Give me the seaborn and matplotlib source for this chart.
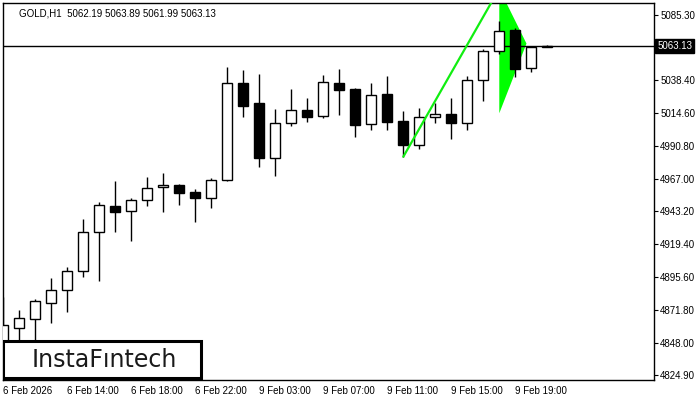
import matplotlib
matplotlib.use("Agg")
import matplotlib.pyplot as plt
import matplotlib.transforms as mtransforms
from matplotlib.patches import Rectangle
import seaborn as sns
import numpy as np

# GOLD H1 candles
opens = [4842.8, 4858.9, 4865.4, 4877.0, 4886.0, 4899.8, 4928.0, 4946.9, 4943.3, 4951.2,
         4960.7, 4962.1, 4957.0, 4952.7, 4965.7, 5036.0, 5021.5, 4981.7, 5007.0, 5016.4,
         5012.1, 5036.0, 5031.9, 5006.3, 5028.3, 5008.7, 4991.1, 5011.4, 5013.8, 5007.0,
         5038.2, 5059.2, 5074.6, 5046.9, 5062.19]
highs = [4881.2, 4871.7, 4879.5, 4894.9, 4902.9, 4937.7, 4950.0, 4965.2, 4952.9, 4968.1,
         4970.8, 4963.0, 4959.4, 4967.4, 5047.8, 5045.6, 5042.7, 5017.2, 5031.9, 5025.4,
         5042.0, 5046.4, 5032.6, 5036.0, 5041.3, 5015.9, 5017.9, 5022.0, 5025.4, 5041.3,
         5060.9, 5081.2, 5076.1, 5063.0, 5063.89]
lows = [4831.9, 4846.4, 4845.0, 4862.5, 4870.5, 4895.9, 4893.0, 4928.0, 4921.7, 4947.3,
        4943.0, 4948.0, 4935.7, 4945.9, 4965.0, 5011.8, 4975.6, 4969.1, 5005.3, 5007.7,
        5011.1, 5013.3, 4997.3, 5002.4, 5002.4, 4982.8, 4988.6, 5007.0, 4995.4, 5002.5,
        5023.4, 5057.0, 5040.8, 5044.4, 5061.99]
closes = [4860.9, 4865.7, 4878.0, 4886.0, 4899.8, 4928.3, 4947.6, 4943.0, 4951.2, 4959.9,
          4962.3, 4956.7, 4953.1, 4965.7, 5036.0, 5019.8, 4982.1, 5007.0, 5016.4, 5011.8,
          5036.7, 5031.4, 5006.0, 5027.3, 5007.7, 4991.1, 5011.4, 5013.5, 5007.0, 5038.2,
          5059.2, 5073.7, 5046.6, 5062.2, 5063.13]

time_labels = ["6 Feb 2026", "6 Feb 14:00", "6 Feb 18:00", "6 Feb 22:00", "9 Feb 03:00",
               "9 Feb 07:00", "9 Feb 11:00", "9 Feb 15:00", "9 Feb 19:00"]
price_ticks = [5085.30, 5038.40, 5014.60, 4990.80, 4967.00, 4943.20, 4919.40,
               4895.60, 4871.80, 4848.00, 4824.90]
last_price = 5063.13

# bullish pennant: pole and flag
pole_x = [25, 31]
pole_y = [4982.8, 5104.6]
flag_x = [31, 31, 32.7]
flag_y = [5104.6, 5014.3, 5064.8]

sns.set_theme(style="white")
plt.rcParams['font.family'] = ['Liberation Sans', 'DejaVu Sans']

fig = plt.figure(figsize=(7, 4), dpi=100)
ax = fig.add_axes([3 / 700, 20 / 400, 651 / 700, 377 / 400])

x = np.arange(len(opens))
o = np.array(opens)
c = np.array(closes)
bull = c >= o

ax.vlines(x, lows, highs, color="black", linewidth=1.0, zorder=2)
ax.bar(x, np.abs(c - o), bottom=np.minimum(o, c), width=0.64,
       color=np.where(bull, "white", "black"), edgecolor="black", linewidth=1.0, zorder=3)

ax.fill(flag_x, flag_y, color="#00ff00", zorder=1.5, linewidth=0)
sns.lineplot(x=pole_x, y=pole_y, color="#11ee11", linewidth=1.6, ax=ax, zorder=4)

ax.axhline(last_price, color="black", linewidth=1.0, zorder=2.5)

ax.set_xlim(-0.02, 40.67)
ax.set_ylim(4821.0, 5094.2)

ax.yaxis.tick_right()
ax.set_yticks(price_ticks)
ax.set_yticklabels([f"{v:.2f}" for v in price_ticks])
ax.set_xticks(np.arange(0, len(opens), 4)[:len(time_labels)])
ax.set_xticklabels(time_labels, ha="left")
ax.tick_params(axis="both", direction="out", length=3, width=0.8, color="black",
               labelsize=7, labelcolor="black", pad=1.5)
ax.tick_params(axis="x", pad=1)
ax.set_xlabel("")
ax.set_ylabel("")
for s in ax.spines.values():
    s.set_visible(True)
    s.set_color("black")
    s.set_linewidth(1.0)

# current price tag on the axis
trans = mtransforms.blended_transform_factory(ax.transAxes, ax.transData)
ax.text(1.005, last_price, f"{last_price:.2f}", transform=trans, fontsize=7,
        color="white", va="center", ha="left",
        bbox=dict(boxstyle="square,pad=0.2", facecolor="black", edgecolor="black"),
        zorder=6, clip_on=False)

ax.text(0.025, 0.985, "GOLD,H1  5062.19 5063.89 5061.99 5063.13", transform=ax.transAxes,
        fontsize=7, color="black", va="top", ha="left")

# logo box
ax.add_patch(Rectangle((0.0, 0.005), 198 / 651, 37 / 377, transform=ax.transAxes,
                       facecolor="white", edgecolor="black", linewidth=2.2, zorder=10))
ax.text(101 / 651, 0.005 + 18.5 / 377, "InstaFıntech", transform=ax.transAxes,
        fontsize=17, color="#1a1a1a", va="center", ha="center", zorder=11,
        family=["DejaVu Sans"])

fig.savefig("out.png", dpi=100)
